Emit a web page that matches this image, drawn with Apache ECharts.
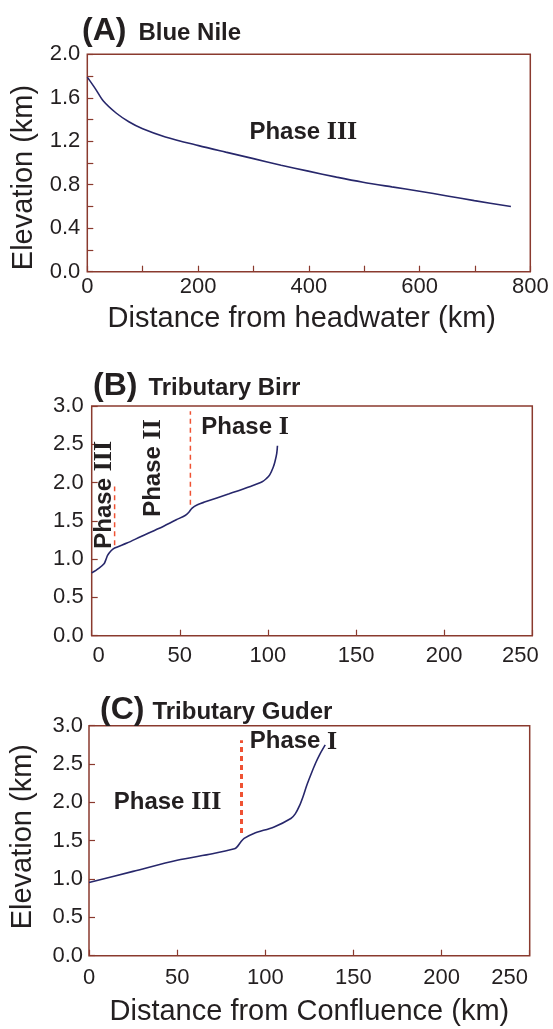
<!DOCTYPE html>
<html>
<head>
<meta charset="utf-8">
<script src="https://cdn.jsdelivr.net/npm/echarts@6/dist/echarts.min.js"></script>
<style>html,body{margin:0;padding:0;background:#fff}#c{width:553px;height:1029px}</style>
</head>
<body>
<div id="c"></div>
<script>
// ---- data ----
const blueNile = [[0,1.79],[15,1.68],[29,1.57],[52,1.46],[75,1.38],[100,1.315],[141,1.24],[201,1.16],[250,1.10],[300,1.04],[350,0.98],[399,0.925],[450,0.87],[498,0.823],[550,0.78],[600,0.74],[650,0.697],[699,0.654],[765,0.60]];
const birr = [[0,0.82],[4,0.88],[7,0.94],[8,0.99],[9,1.05],[11,1.11],[13,1.145],[20,1.21],[28,1.296],[38,1.40],[48,1.514],[53,1.57],[55,1.61],[57,1.667],[60,1.71],[64,1.745],[78,1.854],[90,1.95],[97,2.014],[99,2.05],[101,2.10],[103,2.20],[104,2.275],[105,2.38],[105.4,2.48]];
const guder = [[0,0.955],[25,1.10],[50,1.246],[70,1.33],[82.5,1.395],[84,1.42],[86,1.48],[88,1.53],[93.5,1.595],[105,1.68],[114.5,1.79],[117,1.85],[119.5,1.96],[121.5,2.08],[123.5,2.22],[126,2.37],[128.5,2.51],[131,2.63],[134,2.75]];
const birrDivides = [[[13,1.18],[13,1.95]],[[56,1.71],[56,2.93]]];
const guderDivide = [[86.5,1.6],[86.5,2.81]];
const yTicksA = [0,2,0.2];
const xTicksA = [0,800,100];
const yTicksBC = [0,3,0.5];
const xTicksBC = [0,250,50];
const labelsA = [{text:'III', rot:0, pos:[390,1.28]}];
const labelsB = [{text:'III', rot:90, pos:[7,1.84]},{text:'II', rot:90, pos:[35,2.19]},{text:'I', rot:0, pos:[87,2.72]}];
const labelsC = [{text:'III', rot:0, pos:[44.6,2.0]},{text:'I', rot:0, pos:[116,2.79]}];

const BORDER = '#8a3a2e';
const LINE = '#27276b';
const RED = '#ef5233';
const TXT = '#231f20';

function yAxis(gi, t, showName, gap, margin, labelEvery, namePad){
  return {
    type:'value', gridIndex:gi, min:t[0], max:t[1], interval:t[2],
    axisLine:{show:false}, splitLine:{show:false},
    axisTick:{inside:true, length:6, lineStyle:{color:BORDER,width:1.2}},
    axisLabel:{color:TXT, fontSize:22, fontFamily:'Liberation Sans', margin:margin,
      formatter:(v)=>{const k=Math.round((v-t[0])/t[2]); return (k%labelEvery===0)? v.toFixed(1):'';}},
    name: showName?'Elevation (km)':'', nameLocation:'middle', nameGap:gap,
    nameTextStyle:{color:TXT, fontSize:29, fontFamily:'Liberation Sans', padding:namePad}
  };
}
function xAxis(gi, t, name, gap, margin, labelEvery, namePad, shifts){
  const rich = {};
  Object.keys(shifts).forEach(k=>{
    const s = shifts[k];
    rich['s'+k] = {fontSize:22, fontFamily:'Liberation Sans', color:TXT,
      padding: s>0 ? [0,0,0,2*s] : [0,-2*s,0,0]};
  });
  return {
    type:'value', gridIndex:gi, min:t[0], max:t[1], interval:t[2],
    axisLine:{show:false}, splitLine:{show:false},
    axisTick:{inside:true, length:6, lineStyle:{color:BORDER,width:1.2}},
    axisLabel:{color:TXT, fontSize:22, fontFamily:'Liberation Sans', margin:margin, showMinLabel:true, showMaxLabel:true, rich:rich,
      formatter:(v)=>{const k=Math.round((v-t[0])/t[2]); if(k%labelEvery!==0) return '';
        return (shifts[v]!==undefined) ? '{s'+v+'|'+v+'}' : String(v);}},
    name:name, nameLocation:'middle', nameGap:gap,
    nameTextStyle:{color:TXT, fontSize:29, fontFamily:'Liberation Sans', padding:namePad}
  };
}
const phaseRich = {
  p:{fontFamily:'Liberation Sans', fontWeight:'bold', fontSize:24, color:TXT, textBorderWidth:0},
  r:{fontFamily:'Liberation Serif', fontWeight:'bold', fontSize:26, color:TXT, textBorderWidth:0}
};
function labelSeries(gi, arr){
  return arr.map(l=>({
    type:'scatter', xAxisIndex:gi, yAxisIndex:gi, symbolSize:0, silent:true,
    itemStyle:{opacity:1}, data:[l.pos],
    label:{show:true, position:'inside', rotate:l.rot, color:TXT, textBorderWidth:0, opacity:1,
      formatter:'{p|Phase }{r|'+l.text+'}', rich:phaseRich}
  }));
}
function lineSeries(gi, data){
  return {type:'line', xAxisIndex:gi, yAxisIndex:gi, data:data, showSymbol:false, smooth:0.3, silent:true,
    lineStyle:{color:LINE, width:1.6}};
}
function dashSeries(gi, data, w, dash){
  return {type:'line', xAxisIndex:gi, yAxisIndex:gi, data:data, showSymbol:false, silent:true,
    lineStyle:{color:RED, width:w, type:dash}};
}
function titleRich(padL){
  return {
    a:{fontFamily:'Liberation Sans', fontWeight:'bold', fontSize:32, color:TXT},
    b:{fontFamily:'Liberation Sans', fontWeight:'bold', fontSize:24, color:TXT, padding:[5,0,0,padL]}
  };
}
const option = {
  animation:false,
  title:[
    {text:'{a|(A)}{b|Blue Nile}', left:77, top:10, textStyle:{rich:titleRich(12)}},
    {text:'{a|(B)}{b|Tributary Birr}', left:88, top:365, textStyle:{rich:titleRich(11)}},
    {text:'{a|(C)}{b|Tributary Guder}', left:95, top:689, textStyle:{rich:titleRich(8)}}
  ],
  grid:[
    {left:87.3, top:54.3, width:443, height:217.4, show:true, borderColor:BORDER, borderWidth:1.5},
    {left:91.7, top:406, width:440.6, height:229.7, show:true, borderColor:BORDER, borderWidth:1.5},
    {left:89, top:725.7, width:440.7, height:230, show:true, borderColor:BORDER, borderWidth:1.5}
  ],
  xAxis:[
    xAxis(0, xTicksA, 'Distance from headwater (km)', 33, 4, 2, [0,14,0,0], {}),
    xAxis(1, xTicksBC, '', 30, 9, 1, 0, {0:7, 250:-12}),
    xAxis(2, xTicksBC, 'Distance from Confluence (km)', 42, 11, 1, 0, {250:-20})
  ],
  yAxis:[
    yAxis(0, yTicksA, true, 49, 7, 2, [0,29,0,0]),
    yAxis(1, yTicksBC, false, 48, 8, 1, 0),
    yAxis(2, yTicksBC, true, 52, 6, 1, [0,0,0,8])
  ],
  series:[
    lineSeries(0, blueNile),
    lineSeries(1, birr),
    lineSeries(2, guder),
    dashSeries(1, birrDivides[0], 1.5, [5,4]),
    dashSeries(1, birrDivides[1], 1.5, [5,4]),
    dashSeries(2, guderDivide, 3, [5,4]),
    ...labelSeries(0, labelsA),
    ...labelSeries(1, labelsB),
    ...labelSeries(2, labelsC)
  ]
};
const chart = echarts.init(document.getElementById('c'), null, {renderer:'canvas'});
chart.setOption(option);
</script>
</body>
</html>
